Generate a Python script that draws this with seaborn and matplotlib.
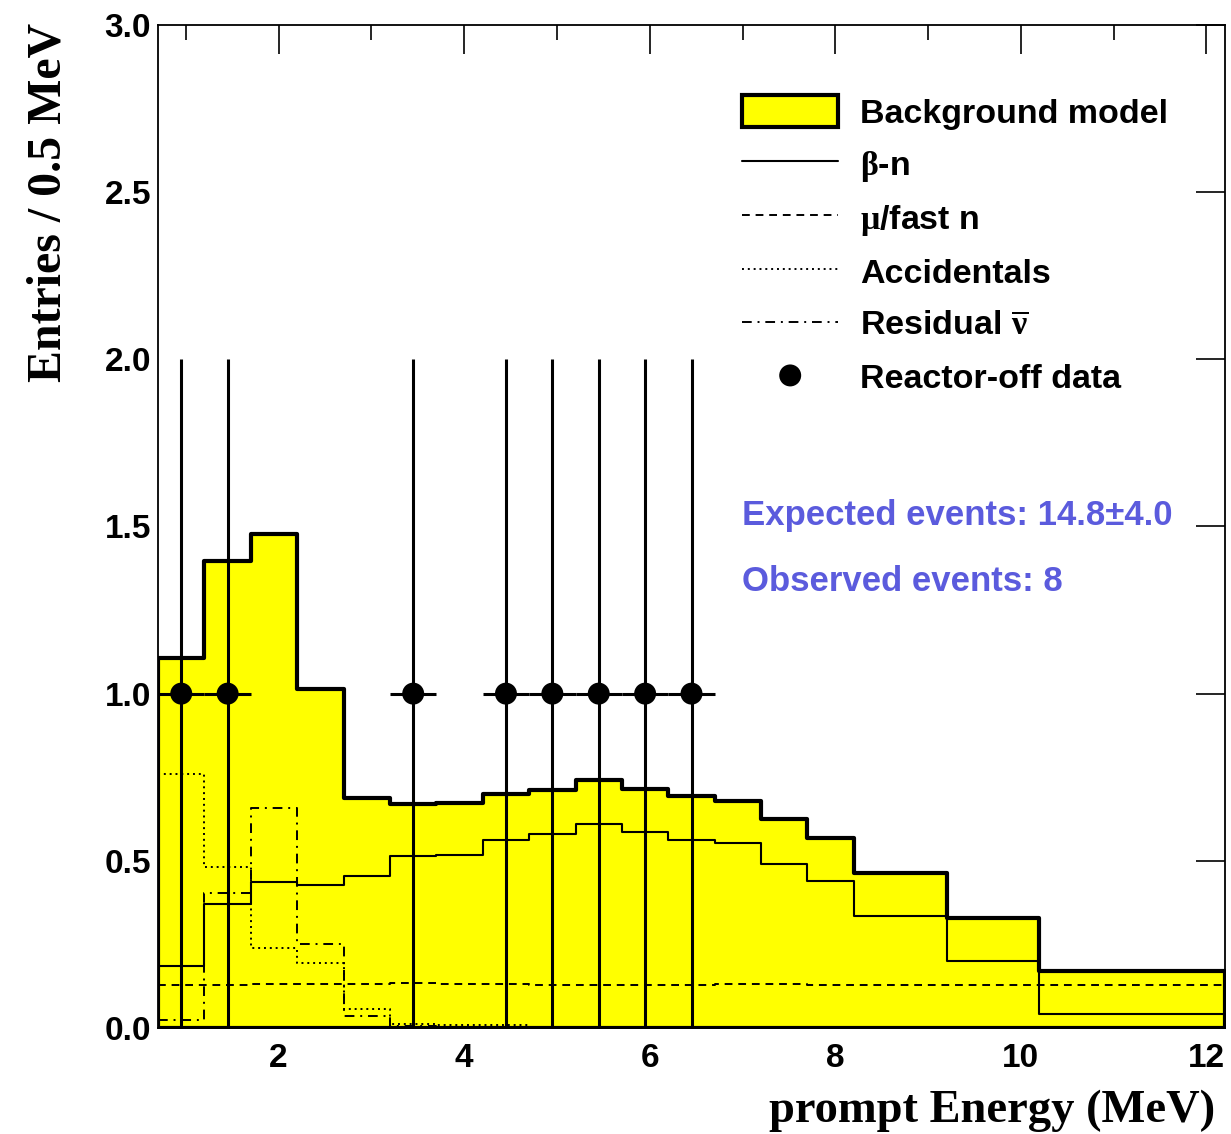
import numpy as np
import pandas as pd
import seaborn as sns
import matplotlib.pyplot as plt
from matplotlib.ticker import MultipleLocator, FormatStrFormatter

# bin edges (MeV) and bin contents (entries / 0.5 MeV)
edges = [0.7, 1.2, 1.7, 2.2, 2.7, 3.2, 3.7, 4.2, 4.7, 5.2, 5.7, 6.2, 6.7,
         7.2, 7.7, 8.2, 9.2, 10.2, 12.2]
total = [1.108, 1.398, 1.476, 1.013, 0.687, 0.670, 0.673, 0.701, 0.712,
         0.741, 0.715, 0.695, 0.680, 0.625, 0.567, 0.464, 0.328, 0.170]
beta_n = [0.185, 0.371, 0.438, 0.428, 0.455, 0.515, 0.518, 0.563, 0.581,
          0.610, 0.587, 0.563, 0.552, 0.491, 0.439, 0.334, 0.200, 0.043]
mu_fast = [0.128, 0.130, 0.131, 0.131, 0.131, 0.134, 0.133, 0.131, 0.130,
           0.129, 0.130, 0.128, 0.131, 0.131, 0.128, 0.129, 0.128, 0.128]
accidentals = [0.760, 0.482, 0.240, 0.194, 0.057, 0.011, 0.010, 0.008, 0.004,
               0.003, 0.002, 0.002, 0.001, 0.001, 0.0, 0.0, 0.0, 0.0]
residual = [0.025, 0.404, 0.659, 0.251, 0.037, 0.006, 0.004, 0.003, 0.002,
            0.002, 0.001, 0.001, 0.001, 0.001, 0.0, 0.0, 0.0, 0.0]

# reactor-off data points
data_x = [0.95, 1.45, 3.45, 4.45, 4.95, 5.45, 5.95, 6.45]
data_y = [1, 1, 1, 1, 1, 1, 1, 1]
data_xerr = [0.25] * 8
data_yerr = [1.0] * 8

centers = [(a + b) / 2 for a, b in zip(edges[:-1], edges[1:])]
df = pd.DataFrame({'E': centers, 'total': total, 'beta_n': beta_n,
                   'mu_fast': mu_fast, 'acc': accidentals, 'res': residual})

sns.set_style("white")
plt.rcParams['font.family'] = ['Liberation Sans', 'DejaVu Sans']
plt.rcParams['font.weight'] = 'bold'
plt.rcParams['text.color'] = 'black'
plt.rcParams['axes.labelcolor'] = 'black'
plt.rcParams['xtick.color'] = 'black'
plt.rcParams['ytick.color'] = 'black'
plt.rcParams['mathtext.fontset'] = 'custom'
plt.rcParams['mathtext.rm'] = 'Liberation Serif'
plt.rcParams['mathtext.it'] = 'Liberation Serif'
plt.rcParams['mathtext.bf'] = 'Liberation Sans:bold'

fig = plt.figure(figsize=(12.31, 11.34), dpi=100)
ax = fig.add_axes([0.1284, 0.0935, 0.8667, 0.8845])

# background model (filled, thick outline)
sns.histplot(data=df, x='E', weights='total', bins=edges, element='step',
             fill=True, facecolor='#ffff00', edgecolor='black', linewidth=3,
             alpha=1, ax=ax, label='Background model', zorder=1)
sns.histplot(data=df, x='E', weights='beta_n', bins=edges, element='step',
             fill=False, color='black', linewidth=1.5, ax=ax,
             label=r'$\beta$-n', zorder=2)
sns.histplot(data=df, x='E', weights='mu_fast', bins=edges, element='step',
             fill=False, color='black', linewidth=1.4, linestyle=(0, (4, 3)),
             ax=ax, label=r'$\mu$/fast n', zorder=2)
sns.histplot(data=df, x='E', weights='acc', bins=edges, element='step',
             fill=False, color='black', linewidth=1.4, linestyle=(0, (1, 2)),
             ax=ax, label='Accidentals', zorder=2)
sns.histplot(data=df, x='E', weights='res', bins=edges, element='step',
             fill=False, color='black', linewidth=1.4,
             linestyle=(0, (5, 3, 1, 3)), ax=ax,
             label=r'Residual $\overline{\nu}$', zorder=2)

ax.errorbar(data_x, data_y, xerr=data_xerr, yerr=data_yerr, fmt='none',
            ecolor='black', elinewidth=2.2, capsize=0, zorder=5)
sns.scatterplot(x=data_x, y=data_y, color='black', s=250, edgecolor='none',
                ax=ax, label='Reactor-off data', zorder=6)

ax.set_xlim(0.7, 12.2)
ax.set_ylim(0, 3.0)
ax.xaxis.set_major_locator(MultipleLocator(2))
ax.xaxis.set_minor_locator(MultipleLocator(1))
ax.yaxis.set_major_locator(MultipleLocator(0.5))
ax.yaxis.set_major_formatter(FormatStrFormatter('%.1f'))
ax.tick_params(which='both', direction='in', top=True, right=True,
               labelsize=24, width=1.2, color='black', labelcolor='black')
ax.tick_params(which='major', length=21)
ax.tick_params(which='minor', length=11)
ax.tick_params(axis='x', pad=11)
ax.tick_params(axis='y', pad=5)
for lab in ax.get_xticklabels() + ax.get_yticklabels():
    lab.set_fontweight('bold')
for s in ax.spines.values():
    s.set_linewidth(1.3)
    s.set_color('black')

ax.set_xlabel('prompt Energy (MeV)', loc='right', fontsize=33.5,
              family='Liberation Serif', fontweight='bold')
ax.set_ylabel('Entries / 0.5 MeV', loc='top', fontsize=34.5,
              family='Liberation Serif', fontweight='bold')
ax.xaxis.set_label_coords(0.9906, -0.083)
ax.xaxis.label.set_va('center')
ax.yaxis.set_label_coords(-0.103, 1.002)
ax.yaxis.label.set_va('center')

handles, labels = ax.get_legend_handles_labels()
order = ['Background model', r'$\beta$-n', r'$\mu$/fast n', 'Accidentals',
         r'Residual $\overline{\nu}$', 'Reactor-off data']
hmap = dict(zip(labels, handles))
leg = ax.legend([hmap[k] for k in order], order, loc='upper left',
                bbox_to_anchor=(0.6028, 0.9162), bbox_transform=fig.transFigure,
                frameon=False, fontsize=24.5, handlelength=2.83,
                handleheight=1.09, handletextpad=0.63, labelspacing=0.51,
                borderpad=0, borderaxespad=0, markerscale=1.0)
for t in leg.get_texts():
    t.set_fontweight('bold')

ax.text(0.547, 0.511, u'Expected events: 14.8\u00b14.0', transform=ax.transAxes,
        color='#5b5bdd', fontsize=25, fontweight='bold', va='center')
ax.text(0.547, 0.445, 'Observed events: 8', transform=ax.transAxes,
        color='#5b5bdd', fontsize=25, fontweight='bold', va='center')

fig.savefig('out.png', dpi=100)
